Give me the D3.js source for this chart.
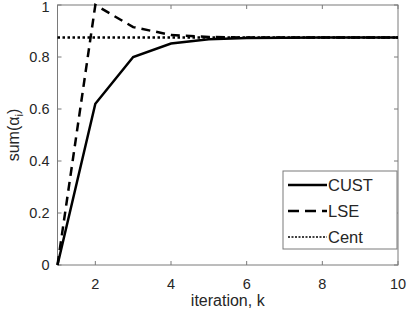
<!DOCTYPE html>
<html>
<head>
<meta charset="utf-8">
<script src="https://cdn.jsdelivr.net/npm/d3@7"></script>
<style>
  body { margin: 0; background: #fff; }
  text { font-family: "Liberation Sans", Arial, sans-serif; fill: #262626; }
</style>
</head>
<body>
<div id="chart"></div>
<script>
const iterations = [1, 2, 3, 4, 5, 6, 7, 8, 9, 10];
const cust = [0, 0.62, 0.80, 0.852, 0.868, 0.873, 0.874, 0.875, 0.875, 0.875];
const lse = [0, 1.0, 0.915, 0.885, 0.877, 0.875, 0.875, 0.875, 0.875, 0.875];
const cent = [0.875, 0.875, 0.875, 0.875, 0.875, 0.875, 0.875, 0.875, 0.875, 0.875];
const xTicks = [2, 4, 6, 8, 10];
const yTicks = [0, 0.2, 0.4, 0.6, 0.8, 1];

const width = 407, height = 314;
const margin = { top: 5, right: 9, bottom: 49, left: 57.5 };

const svg = d3.select("#chart").append("svg")
  .attr("width", width)
  .attr("height", height);

const x = d3.scaleLinear().domain([1, 10]).range([margin.left, width - margin.right]);
const y = d3.scaleLinear().domain([0, 1]).range([height - margin.bottom, margin.top]);

const axisColor = "#7a7a7a";

// box
svg.append("rect")
  .attr("x", x(1)).attr("y", y(1))
  .attr("width", x(10) - x(1)).attr("height", y(0) - y(1))
  .attr("fill", "none").attr("stroke", axisColor).attr("stroke-width", 1);

// ticks on all four sides, pointing inward
const tickLen = 4;
svg.append("g").selectAll("line").data(xTicks).join("line")
  .attr("x1", d => x(d)).attr("x2", d => x(d))
  .attr("y1", y(0)).attr("y2", y(0) - tickLen)
  .attr("stroke", axisColor);
svg.append("g").selectAll("line").data(xTicks).join("line")
  .attr("x1", d => x(d)).attr("x2", d => x(d))
  .attr("y1", y(1)).attr("y2", y(1) + tickLen)
  .attr("stroke", axisColor);
svg.append("g").selectAll("line").data(yTicks).join("line")
  .attr("y1", d => y(d)).attr("y2", d => y(d))
  .attr("x1", x(1)).attr("x2", x(1) + tickLen)
  .attr("stroke", axisColor);
svg.append("g").selectAll("line").data(yTicks).join("line")
  .attr("y1", d => y(d)).attr("y2", d => y(d))
  .attr("x1", x(10)).attr("x2", x(10) - tickLen)
  .attr("stroke", axisColor);

// tick labels
svg.append("g").selectAll("text").data(xTicks).join("text")
  .attr("x", d => x(d)).attr("y", y(0) + 24)
  .attr("text-anchor", "middle")
  .attr("font-size", 14.5)
  .text(d => d);
svg.append("g").selectAll("text").data(yTicks).join("text")
  .attr("x", x(1) - 8).attr("y", d => Math.max(y(d) + 5, 12))
  .attr("text-anchor", "end")
  .attr("font-size", 14.5)
  .text(d => d);

// axis labels
svg.append("text")
  .attr("x", (x(1) + x(10)) / 2).attr("y", height - 8)
  .attr("text-anchor", "middle")
  .attr("font-size", 16)
  .text("iteration, k");

const yl = svg.append("text")
  .attr("transform", `translate(19,${(y(0) + y(1)) / 2}) rotate(-90)`)
  .attr("text-anchor", "middle")
  .attr("font-size", 16);
yl.append("tspan").text("sum(");
yl.append("tspan").text("α");
yl.append("tspan").attr("font-size", 11).attr("dy", 4).text("i");
yl.append("tspan").attr("dy", -4).text(")");

// series
const line = d3.line().x((d, i) => x(iterations[i])).y(d => y(d));
const series = [
  { name: "CUST", values: cust, dash: null, width: 2.5 },
  { name: "LSE", values: lse, dash: "9,6", width: 2.5 },
  { name: "Cent", values: cent, dash: "2.5,2.5", width: 2.5 }
];

svg.append("g").selectAll("path").data(series).join("path")
  .attr("d", d => line(d.values))
  .attr("fill", "none")
  .attr("stroke", "#000")
  .attr("stroke-width", d => d.width)
  .attr("stroke-dasharray", d => d.dash);

// legend
const lg = svg.append("g").attr("transform", "translate(283,171)");
lg.append("rect")
  .attr("width", 114).attr("height", 78)
  .attr("fill", "#fff").attr("stroke", axisColor);
series.forEach((s, i) => {
  const ly = 14 + i * 26;
  lg.append("line")
    .attr("x1", 5).attr("x2", 44)
    .attr("y1", ly).attr("y2", ly)
    .attr("stroke", "#000")
    .attr("stroke-width", i === 2 ? 1.5 : s.width)
    .attr("stroke-dasharray", i === 1 ? "11,6" : (i === 2 ? "2,1.5" : null));
  lg.append("text")
    .attr("x", 45).attr("y", ly + 6)
    .attr("font-size", 16.5)
    .text(s.name);
});
</script>
</body>
</html>
